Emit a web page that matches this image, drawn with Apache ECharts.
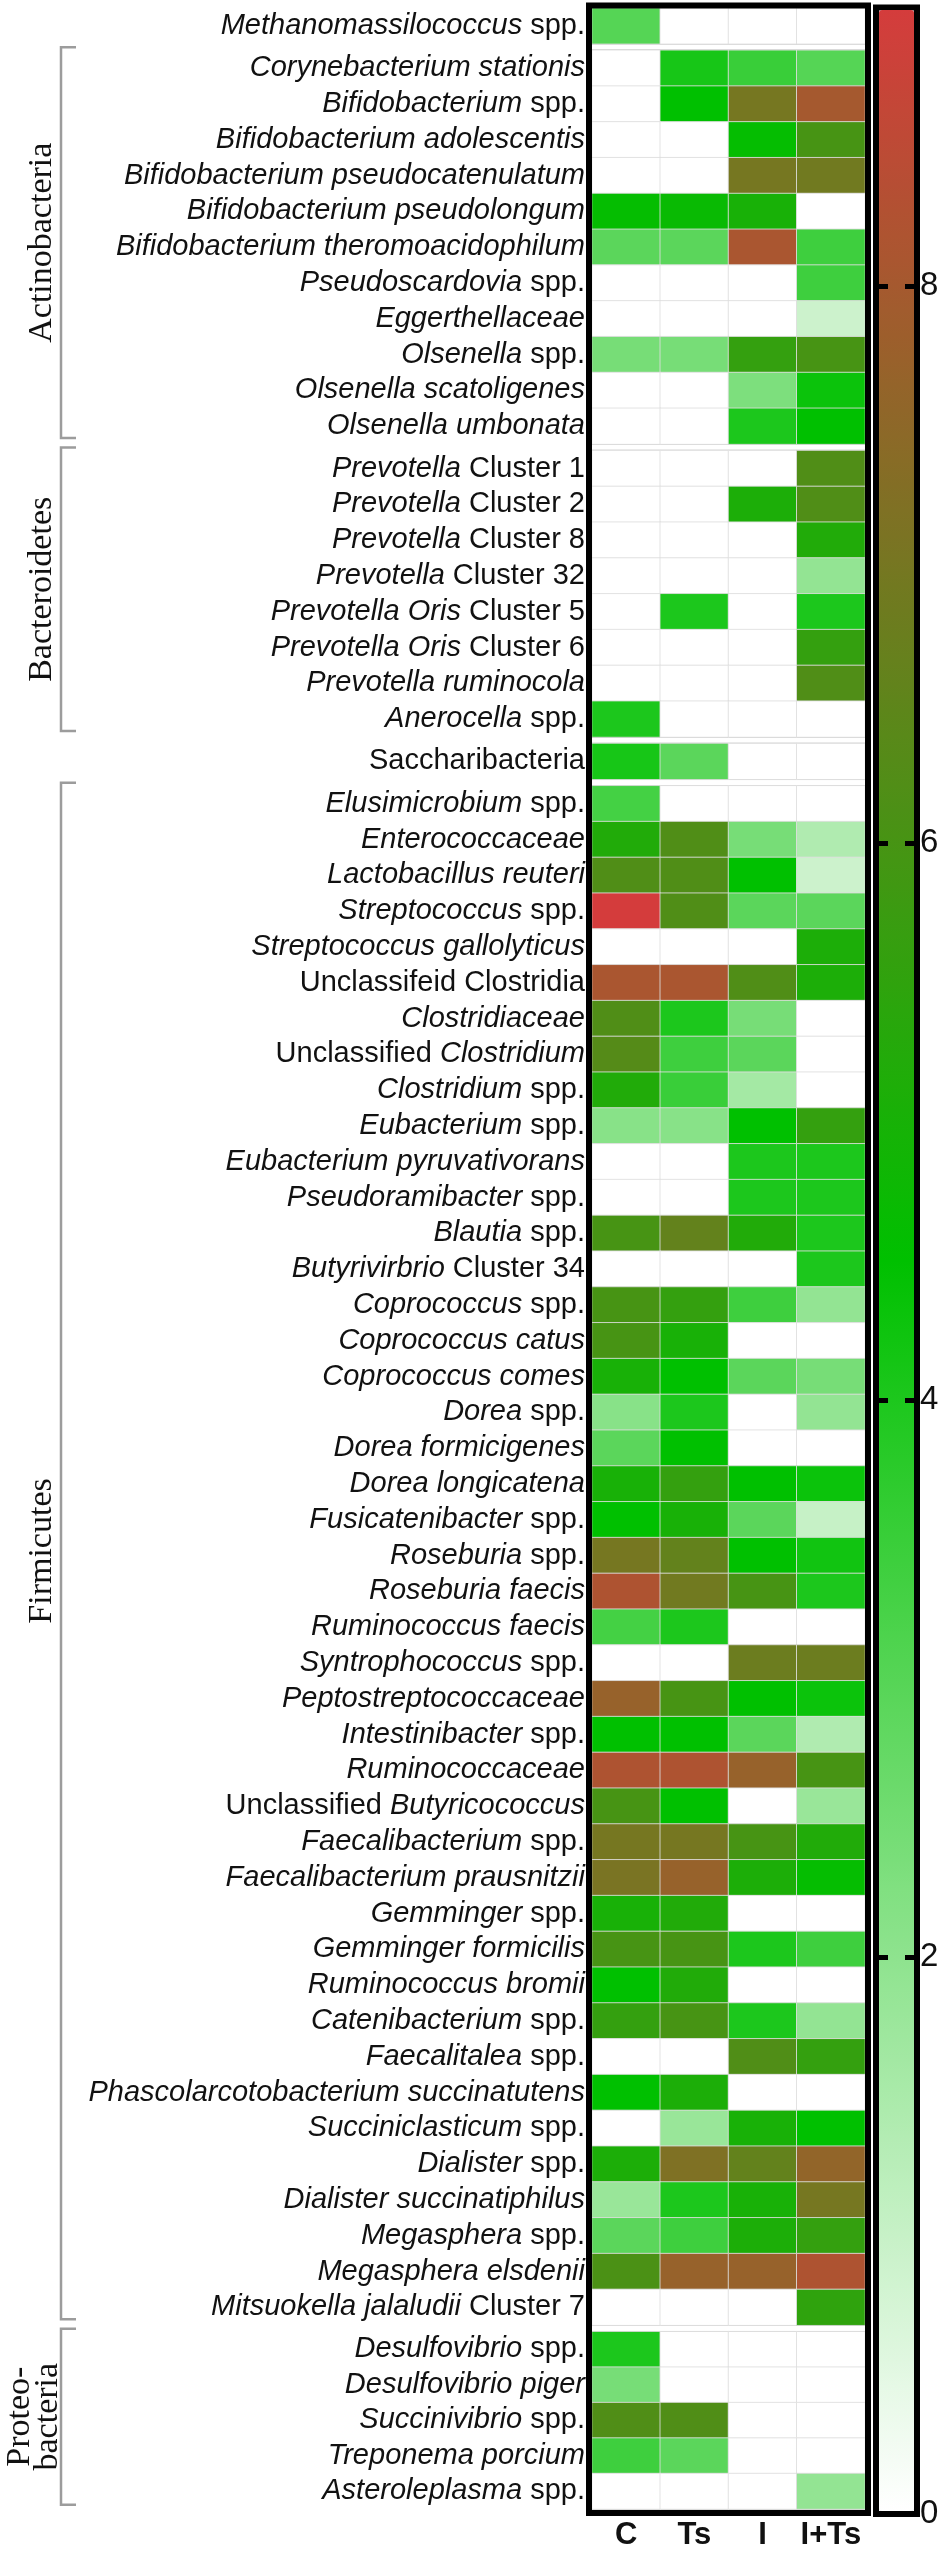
<!DOCTYPE html>
<html><head><meta charset="utf-8">
<script src="https://cdn.jsdelivr.net/npm/echarts@6/dist/echarts.min.js"></script>
<style>html,body{margin:0;padding:0;background:#fff}#c{width:944px;height:2551px}</style>
</head><body><div id="c"></div>
<script>
// ---------------- data ----------------
const columns = ['C', 'Ts', 'I', 'I+Ts'];
const groupNames = ['', 'Actinobacteria', 'Bacteroidetes', '', 'Firmicutes', 'Proteo-\nbacteria'];
const groupSizes = [1, 11, 8, 1, 43, 5];
const taxa = [
  '*Methanomassilococcus* spp.',
  '*Corynebacterium stationis*', '*Bifidobacterium* spp.', '*Bifidobacterium adolescentis*',
  '*Bifidobacterium pseudocatenulatum*', '*Bifidobacterium pseudolongum*', '*Bifidobacterium theromoacidophilum*',
  '*Pseudoscardovia* spp.', '*Eggerthellaceae*', '*Olsenella* spp.', '*Olsenella scatoligenes*', '*Olsenella umbonata*',
  '*Prevotella* Cluster 1', '*Prevotella* Cluster 2', '*Prevotella* Cluster 8', '*Prevotella* Cluster 32',
  '*Prevotella Oris* Cluster 5', '*Prevotella Oris* Cluster 6', '*Prevotella ruminocola*', '*Anerocella* spp.',
  'Saccharibacteria',
  '*Elusimicrobium* spp.', '*Enterococcaceae*', '*Lactobacillus reuteri*', '*Streptococcus* spp.',
  '*Streptococcus gallolyticus*', 'Unclassifeid Clostridia', '*Clostridiaceae*', 'Unclassified *Clostridium*',
  '*Clostridium* spp.', '*Eubacterium* spp.', '*Eubacterium pyruvativorans*', '*Pseudoramibacter* spp.',
  '*Blautia* spp.', '*Butyrivirbrio* Cluster 34', '*Coprococcus* spp.', '*Coprococcus catus*', '*Coprococcus comes*',
  '*Dorea* spp.', '*Dorea formicigenes*', '*Dorea longicatena*', '*Fusicatenibacter* spp.', '*Roseburia* spp.',
  '*Roseburia faecis*', '*Ruminococcus faecis*', '*Syntrophococcus* spp.', '*Peptostreptococcaceae*',
  '*Intestinibacter* spp.', '*Ruminococcaceae*', 'Unclassified *Butyricococcus*', '*Faecalibacterium* spp.',
  '*Faecalibacterium prausnitzii*', '*Gemminger* spp.', '*Gemminger formicilis*', '*Ruminococcus bromii*',
  '*Catenibacterium* spp.', '*Faecalitalea* spp.', '*Phascolarcotobacterium succinatutens*', '*Succiniclasticum* spp.',
  '*Dialister* spp.', '*Dialister succinatiphilus*', '*Megasphera* spp.', '*Megasphera elsdenii*',
  '*Mitsuokella jalaludii* Cluster 7',
  '*Desulfovibrio* spp.', '*Desulfovibrio piger*', '*Succinivibrio* spp.', '*Treponema porcium*', '*Asteroleplasma* spp.'
];
const valC = [
  3.0,
  0, 0, 0, 0, 4.6, 2.9, 0, 0, 2.4, 0, 0,
  0, 0, 0, 0, 0, 0, 0, 4.0,
  4.1,
  3.3, 5.2, 6.2, 9.0, 0, 8.1, 6.2, 6.3, 5.2, 2.1, 0, 0, 6.0, 0, 6.0, 6.0, 5.0, 2.1, 2.9, 5.0, 4.5, 7.0,
  8.2, 3.3, 0, 7.7, 4.5, 8.2, 6.0, 7.0, 7.1, 5.0, 6.0, 4.5, 5.6, 0, 4.5, 0, 5.1, 1.8, 2.9, 6.1, 0,
  4.0, 2.4, 6.2, 3.4, 0
];
const valTs = [
  0,
  4.1, 4.5, 0, 0, 4.7, 2.9, 0, 0, 2.4, 0, 0,
  0, 0, 0, 0, 4.0, 0, 0, 0,
  2.9,
  0, 6.2, 6.2, 6.2, 0, 8.1, 4.0, 3.4, 3.5, 2.1, 0, 0, 6.6, 0, 5.6, 5.0, 4.5, 4.0, 4.5, 5.6, 5.0, 6.6,
  6.9, 4.0, 0, 6.0, 4.5, 8.2, 4.5, 7.0, 7.7, 5.2, 6.0, 5.2, 6.0, 0, 5.1, 1.8, 7.2, 4.0, 3.4, 7.7, 0,
  0, 0, 6.2, 2.9, 0
];
const valI = [
  0,
  3.5, 7.0, 4.6, 7.0, 5.0, 8.1, 0, 0, 5.6, 2.3, 4.0,
  0, 5.1, 0, 0, 0, 0, 0, 0,
  0,
  0, 2.4, 4.5, 2.9, 0, 6.2, 2.4, 2.9, 1.6, 4.5, 4.0, 4.0, 5.2, 0, 3.4, 0, 2.9, 0, 0, 4.5, 2.9, 4.5,
  6.0, 0, 6.8, 4.5, 2.9, 7.7, 0, 6.0, 5.1, 0, 4.0, 0, 4.0, 6.2, 0, 5.0, 6.6, 5.0, 5.1, 7.7, 0,
  0, 0, 0, 0, 0
];
const valITs = [
  0,
  3.0, 8.0, 6.0, 6.9, 0, 3.4, 3.4, 0.9, 6.0, 4.3, 4.5,
  6.2, 6.2, 5.2, 1.9, 4.0, 5.6, 6.2, 0,
  0,
  0, 1.4, 0.9, 2.9, 5.1, 5.1, 0, 0, 0, 5.6, 4.0, 4.0, 4.0, 4.0, 1.9, 0, 2.4, 1.9, 0, 4.3, 1.0, 4.2,
  4.0, 0, 6.8, 4.3, 1.4, 6.0, 1.8, 5.2, 4.6, 0, 3.4, 0, 1.9, 5.6, 0, 4.5, 7.6, 7.0, 5.6, 8.2, 5.5,
  0, 0, 0, 0, 1.9
];
const scaleMin = 0, scaleMax = 9, scaleStep = 2;

// ---------------- layout ----------------
const L = { left: 592, width: 273, top0: 8, rowH: 35.8, gap: 6.5 };
const labelFont = 'Liberation Sans';
const values = [valC, valTs, valI, valITs];

function fmt(v) {
  return v.split(/(\*[^*]+\*)/).filter(s => s).map(s =>
    s[0] === '*' ? '{i|' + s.slice(1, -1) + '}' : '{n|' + s + '}').join('');
}

const grids = [], xAxes = [], yAxes = [], series = [], graphics = [];
let y = L.top0, start = 0;
groupSizes.forEach((n, g) => {
  const h = n * L.rowH;
  grids.push({ left: L.left, width: L.width, top: y, height: h, show: true,
    borderColor: '#b4b4b4', borderWidth: 1.5, backgroundColor: '#fff' });
  const last = g === groupSizes.length - 1;
  xAxes.push({ type: 'category', gridIndex: g, data: columns, show: last,
    axisLine: { show: false }, axisTick: { show: false }, splitLine: { show: false },
    axisLabel: { show: last, interval: 0, fontSize: 31, fontWeight: 'bold', fontFamily: labelFont, color: '#111', margin: 11 } });
  const cats = taxa.slice(start, start + n);
  yAxes.push({ type: 'category', gridIndex: g, data: cats, inverse: true,
    axisLine: { show: false }, axisTick: { show: false }, splitLine: { show: false },
    axisLabel: { interval: 0, margin: 7, formatter: fmt,
      rich: {
        i: { fontStyle: 'italic', fontSize: 29, fontFamily: labelFont, color: '#111' },
        n: { fontSize: 29, fontFamily: labelFont, color: '#111' }
      } } });
  const data = [];
  for (let r = 0; r < n; r++) for (let c = 0; c < columns.length; c++) data.push([c, r, values[c][start + r]]);
  series.push({ type: 'heatmap', xAxisIndex: g, yAxisIndex: g, data,
    itemStyle: { borderColor: 'rgba(222,222,222,0.85)', borderWidth: 1 },
    emphasis: { disabled: true }, progressive: 0 });
  // brackets + group labels
  if (groupNames[g]) {
    const top = y - 3, bot = y + h - 6;
    graphics.push({ type: 'polyline', z: 50,
      shape: { points: [[76, top], [61, top], [61, bot], [76, bot]] },
      style: { fill: 'none', stroke: '#9c9c9c', lineWidth: 2.5 } });
    graphics.push({ type: 'text', z: 50, x: groupNames[g].includes('\n') ? 34 : 42, y: (top + bot) / 2,
      rotation: Math.PI / 2,
      style: { text: groupNames[g], font: '34px "Liberation Serif"', fill: '#111',
        textAlign: 'center', textVerticalAlign: 'middle', lineHeight: 28 } });
  }
  y += h + L.gap; start += n;
});

// colour bar axis grid
const cbTop = 7.5, cbBottom = 2514;
grids.push({ left: 876, width: 41, top: cbTop, height: cbBottom - cbTop, show: true,
  borderColor: '#000', borderWidth: 6, backgroundColor: 'transparent' });
const cbi = grids.length - 1;
xAxes.push({ type: 'value', gridIndex: cbi, show: false });
yAxes.push({ type: 'value', gridIndex: cbi, min: scaleMin, max: scaleMax, interval: scaleStep, position: 'left', z: 10,
  axisLine: { show: false }, splitLine: { show: false }, axisLabel: { show: false },
  axisTick: { show: true, inside: true, length: 12, lineStyle: { color: '#000', width: 5 } } });
yAxes.push({ type: 'value', gridIndex: cbi, min: scaleMin, max: scaleMax, interval: scaleStep, position: 'right', z: 10,
  axisLine: { show: false }, splitLine: { show: false },
  axisLabel: { show: true, showMaxLabel: false, fontSize: 33, fontFamily: labelFont, color: '#111', margin: 3,
    formatter: v => (v % scaleStep === 0 ? String(v) : '') },
  axisTick: { show: true, inside: true, length: 12, lineStyle: { color: '#000', width: 5 } } });

// heatmap frame
graphics.push({ type: 'rect', z: 100, shape: { x: 589, y: 5.5, width: 279, height: 2507.5 },
  style: { fill: 'none', stroke: '#000', lineWidth: 6 } });

const chart = echarts.init(document.getElementById('c'), null, { renderer: 'canvas' });
chart.setOption({
  animation: false,
  backgroundColor: '#fff',
  grid: grids, xAxis: xAxes, yAxis: yAxes, series,
  visualMap: { type: 'continuous', min: scaleMin, max: scaleMax, calculable: false, hoverLink: false,
    seriesIndex: series.map((s, i) => i), left: 879, top: 10, itemWidth: 35, itemHeight: 2501, padding: 0,
    z: 2, inRange: { color: ['#ffffff', '#00c000', '#d43c3c'] } },
  graphic: graphics
});
</script></body></html>
